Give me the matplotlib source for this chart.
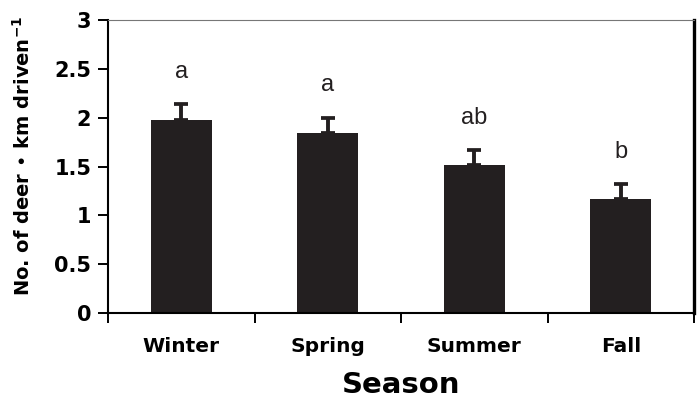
import matplotlib.pyplot as plt
import numpy as np

seasons = ['Winter', 'Spring', 'Summer', 'Fall']
means = [1.98, 1.84, 1.52, 1.165]
se = [0.16, 0.16, 0.15, 0.155]
letters = ['a', 'a', 'ab', 'b']

plt.rcParams['font.family'] = ['DejaVu Sans']
plt.rcParams['mathtext.fontset'] = 'dejavusans'

fig = plt.figure(figsize=(6.97, 4.08), dpi=100)
ax = fig.add_axes([0.155, 0.2328, 0.8407, 0.7182])

x = np.arange(len(seasons))
ax.bar(x, means, width=0.416, color='#231f20', zorder=2)
ax.errorbar(x, means, yerr=[np.zeros(len(se)), se], fmt='none', ecolor='#231f20',
            elinewidth=2.8, capsize=5, capthick=2.7, zorder=3)

for xi, m, s, lab in zip(x, means, se, letters):
    ax.text(xi, m + s + 0.33, lab, ha='center', va='center', fontsize=17,
            family='Liberation Sans', color='#231f20')

ax.set_xlim(-0.5, len(seasons) - 0.5)
ax.set_ylim(0, 3)
ax.set_yticks(np.arange(0, 3.01, 0.5))
ax.set_yticklabels(['0', '0.5', '1', '1.5', '2', '2.5', '3'], fontsize=15, fontweight='bold')

# ticks between categories, names centred under the bars
ax.set_xticks(np.arange(-0.5, len(seasons), 1.0))
ax.set_xticklabels([])
ax.set_xticks(x, minor=True)
ax.set_xticklabels(seasons, minor=True, fontsize=14.5, fontweight='bold')
ax.tick_params(axis='x', which='minor', length=0, pad=17)
ax.tick_params(axis='x', which='major', direction='out', length=7, width=1.4)
ax.tick_params(axis='y', direction='out', length=7, width=1.4, pad=5)

ax.spines['left'].set_linewidth(1.5)
ax.spines['bottom'].set_linewidth(1.5)
ax.spines['right'].set_linewidth(2.4)
ax.spines['top'].set_linewidth(0.8)
ax.spines['top'].set_color('#777777')

ax.set_xlabel('Season', fontsize=21, fontweight='bold', labelpad=11)
ax.set_ylabel('No. of deer • km driven$^{\\mathbf{-1}}$', fontsize=14, fontweight='bold')
ax.yaxis.set_label_coords(-0.126, 0.5375)

plt.savefig('out.png', dpi=100)
